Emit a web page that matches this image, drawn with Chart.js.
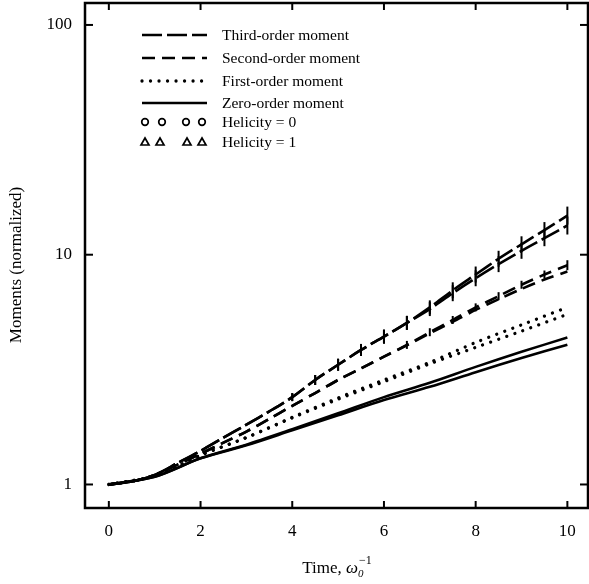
<!DOCTYPE html>
<html><head><meta charset="utf-8">
<script src="https://cdn.jsdelivr.net/npm/chart.js@4/dist/chart.umd.min.js"></script>
<style>html,body{margin:0;padding:0;background:#fff}#wrap{width:589px;height:584px}</style>
</head><body><div id="wrap"><canvas id="c" width="589" height="584"></canvas></div>
<script>
// ---- data ----
const timeHalf = [0,0.5,1,1.5,2,2.5,3,3.5,4,4.5,5,5.5,6,6.5,7,7.5,8,8.5,9,9.5,10];
const timeInt  = [0,1,2,3,4,5,6,7,8,9,10];
const xTicks = [0,2,4,6,8,10];
const yTicks = [1,10,100];

const thirdH0  = [1,1.03,1.1,1.24,1.4,1.6,1.82,2.08,2.4,2.85,3.32,3.85,4.4,5.05,5.9,7.0,8.2,9.6,11.1,12.8,14.8];
const thirdH1  = [1,1.03,1.1,1.24,1.4,1.6,1.82,2.08,2.4,2.85,3.32,3.85,4.4,5.05,5.8,6.8,7.9,9.1,10.4,11.8,13.4];
const secondH0 = [1,1.03,1.1,1.22,1.36,1.52,1.7,1.93,2.2,2.5,2.85,3.2,3.6,4.05,4.6,5.2,5.9,6.6,7.4,8.2,9.0];
const secondH1 = [1,1.03,1.1,1.22,1.36,1.52,1.7,1.93,2.2,2.5,2.85,3.2,3.6,4.03,4.55,5.1,5.75,6.4,7.1,7.8,8.45];
const firstH0  = [1,1.09,1.34,1.6,1.96,2.38,2.85,3.4,4.15,4.95,5.9];
const firstH1  = [1,1.09,1.34,1.6,1.95,2.35,2.8,3.35,3.95,4.65,5.5];
const zeroH0   = [1,1.08,1.3,1.49,1.74,2.04,2.4,2.77,3.25,3.78,4.36];
const zeroH1   = [1,1.08,1.3,1.48,1.72,2.0,2.33,2.66,3.08,3.55,4.06];

const thirdMarkR  = [0,0,0,0,0,0,0,0,4,5,6,6,7,7,7,8,8,8,8,8,9];
const secondMarkR = [0,0,0,0,0,0,0,0,0,0,0,0,0,4,4,4,4,4,4,4,5];

const legendLabels = ['Third-order moment','Second-order moment','First-order moment','Zero-order moment','Helicity = 0','Helicity = 1'];
const yTitle = 'Moments (normalized)';
const xTitleMain = 'Time, ';
// ----------------------------------------

const FONT = "'Liberation Serif', 'DejaVu Serif', serif";
const DASH3 = [20,5], DASH2 = [13,7], DOT = [0.01,8.5];
Chart.defaults.font.family = FONT;
Chart.defaults.color = '#000';

function pts(xs, ys){ return xs.map((t,i)=>({x:t,y:ys[i]})); }
function lineDs(label, xs, ys, dash, extra){
  return Object.assign({
    label, data: pts(xs, ys), borderColor:'#000', borderWidth:2.6,
    borderDash: dash, pointRadius:0, tension:0.3, fill:false
  }, extra||{});
}

const datasets = [
  lineDs('Third-order, helicity 0', timeHalf, thirdH0, DASH3, {pointStyle:'line', pointRotation:90, pointRadius:thirdMarkR, pointBorderWidth:2, pointBorderColor:'#000'}),
  lineDs('Third-order, helicity 1', timeHalf, thirdH1, DASH3, {pointStyle:'line', pointRotation:90, pointRadius:thirdMarkR, pointBorderWidth:2, pointBorderColor:'#000'}),
  lineDs('Second-order, helicity 0', timeHalf, secondH0, DASH2, {pointStyle:'line', pointRotation:90, pointRadius:secondMarkR, pointBorderWidth:2, pointBorderColor:'#000'}),
  lineDs('Second-order, helicity 1', timeHalf, secondH1, DASH2),
  lineDs('First-order, helicity 0', timeInt, firstH0, DOT, {borderWidth:3.3, borderCapStyle:'round'}),
  lineDs('First-order, helicity 1', timeInt, firstH1, DOT, {borderWidth:3.3, borderCapStyle:'round'}),
  lineDs('Zero-order, helicity 0', timeInt, zeroH0, []),
  lineDs('Zero-order, helicity 1', timeInt, zeroH1, []),
];

function seg(ctx,x1,y1,x2,y2){ ctx.beginPath(); ctx.moveTo(x1,y1); ctx.lineTo(x2,y2); ctx.stroke(); }

const framePlugin = {
  id:'frame',
  afterDraw(chart){
    const {ctx, chartArea:a, scales:{x,y}} = chart;
    ctx.save();
    ctx.strokeStyle='#000'; ctx.fillStyle='#000';
    ctx.lineWidth=2.5; ctx.setLineDash([]);
    ctx.strokeRect(a.left, a.top, a.right-a.left, a.bottom-a.top);
    ctx.lineWidth=2;
    xTicks.forEach(v=>{ const px=x.getPixelForValue(v); seg(ctx,px,a.bottom,px,a.bottom-7); seg(ctx,px,a.top,px,a.top+7); });
    yTicks.forEach(v=>{ const py=y.getPixelForValue(v); seg(ctx,a.left,py,a.left+8,py); seg(ctx,a.right,py,a.right-8,py); });

    // y title
    ctx.save();
    ctx.font = "17px "+FONT; ctx.textAlign='center'; ctx.textBaseline='middle';
    ctx.translate(17, 265); ctx.rotate(-Math.PI/2);
    ctx.fillText(yTitle, 0, 0);
    ctx.restore();

    // x title: Time, ω0^-1
    ctx.font = "17px "+FONT; ctx.textBaseline='alphabetic'; ctx.textAlign='left';
    const w1 = ctx.measureText(xTitleMain).width;
    ctx.font = "italic 17px "+FONT; const w2 = ctx.measureText('ω').width;
    ctx.font = "12px "+FONT; const w3 = ctx.measureText('−1').width;
    let sx = 337 - (w1+w2+w3+1)/2, base = 573;
    ctx.font = "17px "+FONT; ctx.fillText(xTitleMain, sx, base); sx += w1;
    ctx.font = "italic 17px "+FONT; ctx.fillText('ω', sx, base); sx += w2;
    ctx.font = "italic 11px "+FONT; ctx.fillText('0', sx, base+4);
    ctx.font = "12px "+FONT; ctx.fillText('−1', sx+1, base-9);

    // legend
    const rows = [35,58,81,103,122,142];
    const lx1 = 142, lx2 = 207, tx = 222;
    ctx.font = "15.5px "+FONT; ctx.textBaseline='middle';
    const styles = [DASH3, DASH2, DOT, []];
    for(let i=0;i<4;i++){
      ctx.setLineDash(styles[i]);
      ctx.lineWidth = i===2 ? 3.3 : 2.6;
      ctx.lineCap = i===2 ? 'round' : 'butt';
      seg(ctx, lx1, rows[i], lx2, rows[i]);
    }
    ctx.setLineDash([]); ctx.lineCap='butt'; ctx.lineWidth=1.7;
    const mx = [143,160,184,200];
    mx.forEach(m=>{ ctx.beginPath(); ctx.arc(m+2, rows[4], 3.3, 0, Math.PI*2); ctx.stroke(); });
    const tmx = [143,158,185,200];
    tmx.forEach(m=>{ const c=m+2, r=rows[5]; ctx.beginPath(); ctx.moveTo(c, r-4); ctx.lineTo(c+4, r+3); ctx.lineTo(c-4, r+3); ctx.closePath(); ctx.stroke(); });
    legendLabels.forEach((t,i)=>ctx.fillText(t, tx, rows[i]+1));
    ctx.restore();
  }
};

new Chart(document.getElementById('c'), {
  type:'line',
  data:{ datasets },
  options:{
    responsive:false, devicePixelRatio:1, animation:false,
    layout:{ autoPadding:false, padding:{ top:3, right:1, left:0, bottom:0 } },
    plugins:{ legend:{display:false}, tooltip:{enabled:false} },
    scales:{
      x:{
        type:'linear', min:-0.52, max:10.45,
        afterBuildTicks:s=>{ s.ticks = xTicks.map(v=>({value:v})); },
        afterFit:s=>{ s.height = 76; s.paddingLeft = 0; s.paddingRight = 0; },
        grid:{ display:false, drawTicks:false, tickLength:0 }, border:{ display:false },
        ticks:{ font:{size:17, family:FONT}, color:'#000', padding:13, maxRotation:0, callback:v=>String(v) }
      },
      y:{
        type:'logarithmic', min:0.79, max:124.6,
        afterBuildTicks:s=>{ s.ticks = yTicks.map(v=>({value:v})); },
        afterFit:s=>{ s.width = 85; s.paddingTop = 0; s.paddingBottom = 0; },
        grid:{ display:false, drawTicks:false, tickLength:0 }, border:{ display:false },
        ticks:{ font:{size:17, family:FONT}, color:'#000', padding:13, callback:v=>String(v) }
      }
    }
  },
  plugins:[framePlugin]
});
</script>
</body></html>
